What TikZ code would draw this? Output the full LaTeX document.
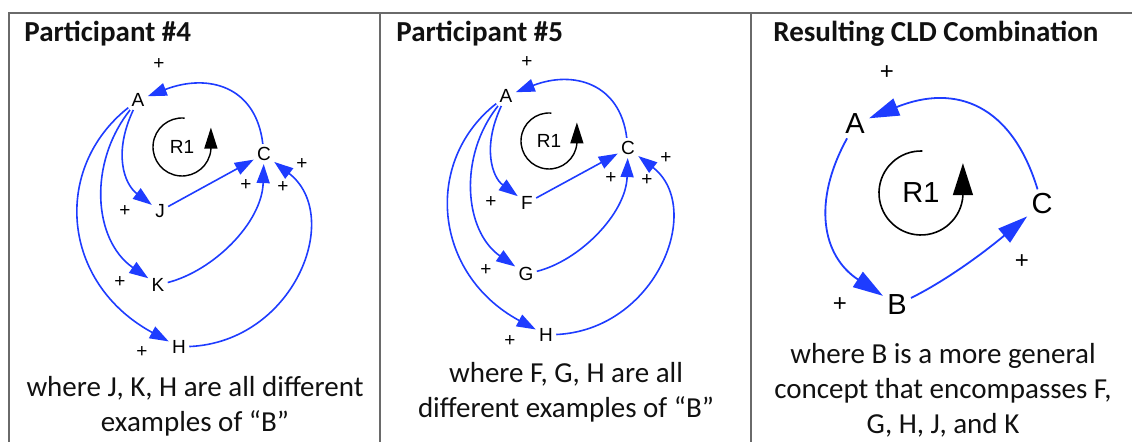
\documentclass[tikz,border=0pt]{standalone}
\usepackage{fontspec}
\setmainfont{Carlito}
\newfontfamily\arialfont{Liberation Sans}
\usetikzlibrary{positioning,calc,arrows.meta}
\definecolor{LinkBlue}{HTML}{1E3CFF}
\definecolor{FrameGray}{HTML}{6A6A6A}
\definecolor{TextDark}{HTML}{111111}

\begin{document}
\begin{tikzpicture}[
    x=0.5pt, y=-0.5pt,
    var/.style={inner sep=1.5pt, font=\arialfont\fontsize{9.5}{11}\selectfont},
    bigvar/.style={inner sep=2pt, font=\arialfont\fontsize{14.5}{17}\selectfont},
    pol/.style={inner sep=0pt, font=\arialfont\fontsize{9.5}{10}\selectfont},
    bigpol/.style={inner sep=0pt, font=\arialfont\fontsize{12}{14}\selectfont},
    link/.style={LinkBlue, line width=0.8pt, -{Triangle[length=9.5pt, width=6.5pt]}},
    biglink/.style={LinkBlue, line width=0.9pt, -{Triangle[length=15pt, width=9pt]}},
    loopsym/.style={black, line width=0.7pt, -{Triangle[length=10.5pt, width=6.5pt]}},
    bigloopsym/.style={black, line width=0.8pt, -{Triangle[length=16pt, width=10pt]}},
    title/.style={anchor=base west, inner sep=0pt, font=\fontsize{14.5}{17}\selectfont\bfseries\color{TextDark}},
    caption/.style={anchor=base, inner sep=0pt, align=center, font=\fontsize{14.5}{17.5}\selectfont\color{TextDark}},
    frameline/.style={FrameGray, line width=0.6pt}
  ]
    \useasboundingbox (0,0) rectangle (1132,442);

    % Table frame
    \draw [frameline] (9,442) -- (9,13) -- (1132,13);
    \draw [frameline] (380,13) -- (380,442);
    \draw [frameline] (751,13) -- (751,442);

    % Titles
    \node (t4) [title] at (24,42) {Participant \#4};
    \node (t5) [title] at (396,42) {Participant \#5};
    \node (tr) [title] at (773,42) {Resulting CLD Combination};

    % Participant #4
    \node (a4) [var] at (138,100) {A};
    \node (c4) [var] at (264,154) {C};
    \node (j4) [var] at (160,211) {J};
    \node (k4) [var] at (158,285) {K};
    \node (h4) [var] at (179,347) {H};
    \node (r4) [var] at (182,147) {R1};

    \draw [link] (c4) .. controls +(-8,-68) and +(70,-27) .. (a4);
    \draw [link] (a4) .. controls +(-25,53) and +(-36,-27) .. (j4);
    \draw [link] (a4) .. controls +(-50,63) and +(-65,-45) .. (k4);
    \draw [link] (a4) .. controls +(-86,68) and +(-118,-64) .. (h4);
    \draw [link] (j4) -- (c4);
    \draw [link] (k4) .. controls +(55,-14) and +(-2,69) .. (c4);
    \draw [link] (h4) .. controls +(115,-5) and +(80,62) .. (c4);
    \draw [loopsym] (r4.center) ++(-85:29) arc[start angle=-85, end angle=-355, radius=29] -- ++(0,-22);

    \node (p4a) [pol] at (159,64) {+};
    \node (p4j) [pol] at (125,211) {+};
    \node (p4k) [pol] at (120,282) {+};
    \node (p4h) [pol] at (142,352) {+};
    \node (p4jc) [pol] at (246,185) {+};
    \node (p4kc) [pol] at (283,187) {+};
    \node (p4hc) [pol] at (302,164) {+};

    % Participant #5
    \node (a5) [var] at (506,96) {A};
    \node (c5) [var] at (628,148) {C};
    \node (f5) [var] at (527,203) {F};
    \node (g5) [var] at (526,274) {G};
    \node (h5) [var] at (546,335) {H};
    \node (r5) [var] at (549,141) {R1};

    \draw [link] (c5) .. controls +(-8,-65) and +(67,-26) .. (a5);
    \draw [link] (a5) .. controls +(-24,51) and +(-35,-26) .. (f5);
    \draw [link] (a5) .. controls +(-48,60) and +(-62,-43) .. (g5);
    \draw [link] (a5) .. controls +(-83,65) and +(-113,-61) .. (h5);
    \draw [link] (f5) -- (c5);
    \draw [link] (g5) .. controls +(53,-13) and +(-2,66) .. (c5);
    \draw [link] (h5) .. controls +(110,-5) and +(77,60) .. (c5);
    \draw [loopsym] (r5.center) ++(-85:28) arc[start angle=-85, end angle=-355, radius=28] -- ++(0,-21);

    \node (p5a) [pol] at (527,62) {+};
    \node (p5f) [pol] at (491,202) {+};
    \node (p5g) [pol] at (486,270) {+};
    \node (p5h) [pol] at (510,341) {+};
    \node (p5fc) [pol] at (611,178) {+};
    \node (p5gc) [pol] at (647,180) {+};
    \node (p5hc) [pol] at (666,158) {+};

    % Resulting combination
    \node (ar) [bigvar] at (855,124) {A};
    \node (br) [bigvar] at (897,305) {B};
    \node (cr) [bigvar] at (1042,204) {C};
    \node (rr) [bigvar] at (921,193) {R1};

    \draw [biglink] (cr) .. controls +(-30,-99) and +(101,-41) .. (ar);
    \draw [biglink] (ar) .. controls +(-43,78) and +(-75,-49) .. (br);
    \draw [biglink] (br) .. controls +(56,-28) and +(-49,41) .. (cr);
    \draw [bigloopsym] (rr.center) ++(-88:42) arc[start angle=-88, end angle=-357, radius=42] -- ++(0,-32);

    \node (pra) [bigpol] at (887,73) {+};
    \node (prb) [bigpol] at (840,305) {+};
    \node (prc) [bigpol] at (1022,262) {+};

    % Captions
    \node (cap4) [caption] at (195,432) {where J, K, H are all different\\examples of “B”};
    \node (cap5) [caption] at (566,418) {where F, G, H are all\\different examples of “B”};
    \node (capr) [caption] at (943,434) {where B is a more general\\concept that encompasses F,\\G, H, J, and K};
\end{tikzpicture}
\end{document}
